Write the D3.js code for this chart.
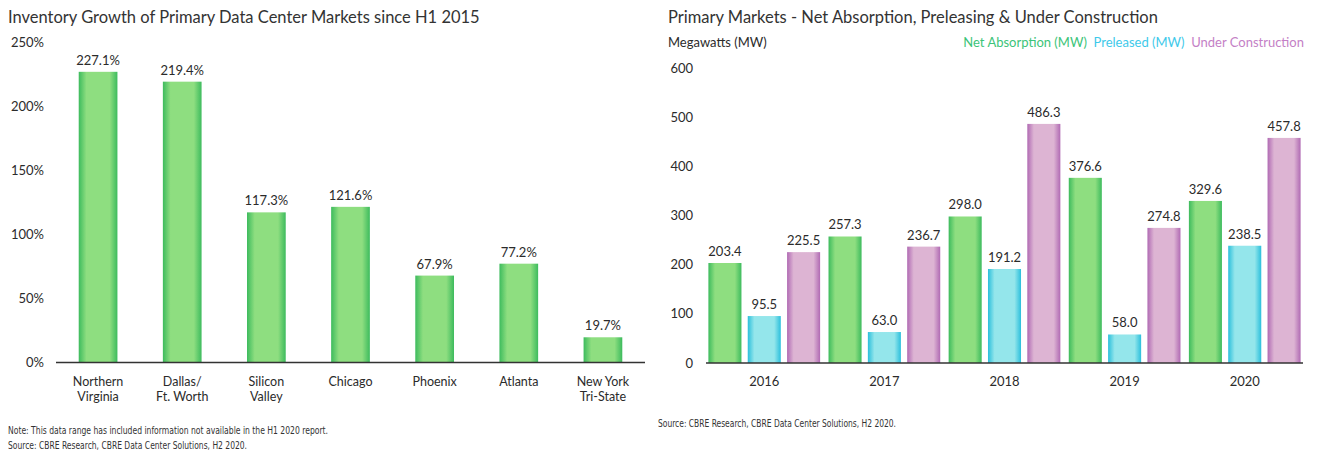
<!DOCTYPE html>
<html>
<head>
<meta charset="utf-8">
<script src="https://cdn.jsdelivr.net/npm/d3@7"></script>
<style>
  body { margin: 0; background: #fff; }
  svg { display: block; font-family: Lato, "Open Sans", sans-serif; }
</style>
</head>
<body>
<svg id="chart" width="1320" height="455"></svg>
<script>
// Left chart data
var markets = [["Northern", "Virginia"], ["Dallas/", "Ft. Worth"], ["Silicon", "Valley"], ["Chicago"], ["Phoenix"], ["Atlanta"], ["New York", "Tri-State"]];
var growth = [227.1, 219.4, 117.3, 121.6, 67.9, 77.2, 19.7];
var growthTicks = [0, 50, 100, 150, 200, 250];

// Right chart data
var years = ["2016", "2017", "2018", "2019", "2020"];
var seriesNames = ["Net Absorption (MW)", "Preleased (MW)", "Under Construction"];
var netAbsorption = [203.4, 257.3, 298.0, 376.6, 329.6];
var preleased = [95.5, 63.0, 191.2, 58.0, 238.5];
var underConstruction = [225.5, 236.7, 486.3, 274.8, 457.8];
var mwTicks = [0, 100, 200, 300, 400, 500, 600];

var svg = d3.select("#chart");

// Gradients (dark edges, light middle)
var gradColors = [
  {id: "g-green", dark: "#3dbb5d", light: "#8ede80", text: "#3cc479"},
  {id: "g-cyan", dark: "#2bbfdc", light: "#94e6eb", text: "#3ec9ea"},
  {id: "g-purple", dark: "#b06ab3", light: "#ddb4d3", text: "#c47fc6"}
];
var defs = svg.append("defs");
gradColors.forEach(function(g){
  var lg = defs.append("linearGradient").attr("id", g.id)
    .attr("x1", "0%").attr("x2", "100%").attr("y1", "0%").attr("y2", "0%");
  lg.append("stop").attr("offset", "0%").attr("stop-color", g.dark);
  lg.append("stop").attr("offset", "20%").attr("stop-color", g.light);
  lg.append("stop").attr("offset", "80%").attr("stop-color", g.light);
  lg.append("stop").attr("offset", "100%").attr("stop-color", g.dark);
});

var textColor = "#2b2b2b";
var noteFont = "'Liberation Sans Narrow', 'DejaVu Sans Condensed', sans-serif";

function footnote(x, y, width, str){
  svg.append("text")
    .attr("x", x).attr("y", y)
    .attr("textLength", width).attr("lengthAdjust", "spacingAndGlyphs")
    .style("font-family", noteFont)
    .style("font-size", "10px").style("fill", "#333")
    .text(str);
}

/*
  Left: Inventory growth
*/
var xL = d3.scaleBand().domain(d3.range(markets.length)).range([56, 645])
  .paddingInner(0.54).paddingOuter(0.27);
var yL = d3.scaleLinear().domain([0, 250]).range([362.5, 42.5]);

svg.append("text")
  .attr("x", 8).attr("y", 23)
  .style("font-size", "16.5px").style("fill", "#333")
  .text("Inventory Growth of Primary Data Center Markets since H1 2015");

svg.append("g").selectAll("text").data(growthTicks).enter().append("text")
  .attr("x", 44).attr("y", function(d){ return yL(d); })
  .attr("dy", "0.35em")
  .style("text-anchor", "end").style("font-size", "13px").style("fill", textColor)
  .text(function(d){ return d + "%"; });

svg.append("g").selectAll("rect").data(growth).enter().append("rect")
  .attr("x", function(d, i){ return xL(i); })
  .attr("y", function(d){ return yL(d); })
  .attr("width", xL.bandwidth())
  .attr("height", function(d){ return yL(0) - yL(d); })
  .style("fill", "url(#g-green)");

svg.append("g").selectAll("text").data(growth).enter().append("text")
  .attr("x", function(d, i){ return xL(i) + xL.bandwidth() / 2; })
  .attr("y", function(d){ return yL(d) - 7; })
  .style("text-anchor", "middle").style("font-size", "13px").style("fill", textColor)
  .text(function(d){ return d.toFixed(1) + "%"; });

svg.append("line")
  .attr("x1", 56).attr("x2", 645).attr("y1", yL(0)).attr("y2", yL(0))
  .style("stroke", "#333").style("stroke-width", 1.5);

var catLabels = svg.append("g").selectAll("text").data(markets).enter().append("text")
  .attr("x", function(d, i){ return xL(i) + xL.bandwidth() / 2; })
  .attr("y", 386)
  .style("text-anchor", "middle").style("font-size", "12.5px").style("fill", textColor);
catLabels.each(function(d){
  var t = d3.select(this);
  d.forEach(function(line, j){
    t.append("tspan").attr("x", t.attr("x")).attr("dy", j ? 15 : 0).text(line);
  });
});

footnote(8, 434, 320, "Note: This data range has included information not available in the H1 2020 report.");
footnote(8, 449, 239, "Source: CBRE Research, CBRE Data Center Solutions, H2 2020.");

/*
  Right: Net absorption, preleasing & under construction
*/
var seriesData = [netAbsorption, preleased, underConstruction];
var x0 = d3.scaleBand().domain(years).range([706, 1303]).paddingInner(0.07).paddingOuter(0.02);
var x1 = d3.scaleBand().domain(d3.range(seriesNames.length)).range([0, x0.bandwidth()]).paddingInner(0.16);
var yR = d3.scaleLinear().domain([0, 600]).range([363, 68]);

svg.append("text")
  .attr("x", 668).attr("y", 23)
  .style("font-size", "16.5px").style("fill", "#333")
  .text("Primary Markets - Net Absorption, Preleasing & Under Construction");

svg.append("text")
  .attr("x", 668).attr("y", 47)
  .style("font-size", "13px").style("fill", textColor)
  .text("Megawatts (MW)");

// Legend, right aligned
var legend = svg.append("text")
  .attr("x", 1304).attr("y", 47)
  .style("text-anchor", "end").style("font-size", "13px")
  .style("white-space", "pre");
seriesNames.forEach(function(name, i){
  legend.append("tspan").style("fill", gradColors[i].text).text((i ? "  " : "") + name);
});

svg.append("g").selectAll("text").data(mwTicks).enter().append("text")
  .attr("x", 693).attr("y", function(d){ return yR(d); })
  .attr("dy", "0.35em")
  .style("text-anchor", "end").style("font-size", "13px").style("fill", textColor)
  .text(function(d){ return d; });

var groups = svg.append("g").selectAll("g").data(years).enter().append("g")
  .attr("transform", function(d){ return "translate(" + x0(d) + ",0)"; });

groups.each(function(year, yi){
  var g = d3.select(this);
  var vals = seriesData.map(function(s){ return s[yi]; });
  g.selectAll("rect").data(vals).enter().append("rect")
    .attr("x", function(d, i){ return x1(i); })
    .attr("y", function(d){ return yR(d); })
    .attr("width", x1.bandwidth())
    .attr("height", function(d){ return yR(0) - yR(d); })
    .style("fill", function(d, i){ return "url(#" + gradColors[i].id + ")"; });
  g.selectAll("text").data(vals).enter().append("text")
    .attr("x", function(d, i){ return x1(i) + x1.bandwidth() / 2; })
    .attr("y", function(d){ return yR(d) - 7; })
    .style("text-anchor", "middle").style("font-size", "13px").style("fill", textColor)
    .text(function(d){ return d.toFixed(1); });
});

svg.append("line")
  .attr("x1", 706).attr("x2", 1303).attr("y1", yR(0)).attr("y2", yR(0))
  .style("stroke", "#333").style("stroke-width", 1.5);

svg.append("g").selectAll("text").data(years).enter().append("text")
  .attr("x", function(d){ return x0(d) + x0.bandwidth() / 2; })
  .attr("y", 386)
  .style("text-anchor", "middle").style("font-size", "13px").style("fill", textColor)
  .text(function(d){ return d; });

footnote(658, 427, 238, "Source: CBRE Research, CBRE Data Center Solutions, H2 2020.");
</script>
</body>
</html>
